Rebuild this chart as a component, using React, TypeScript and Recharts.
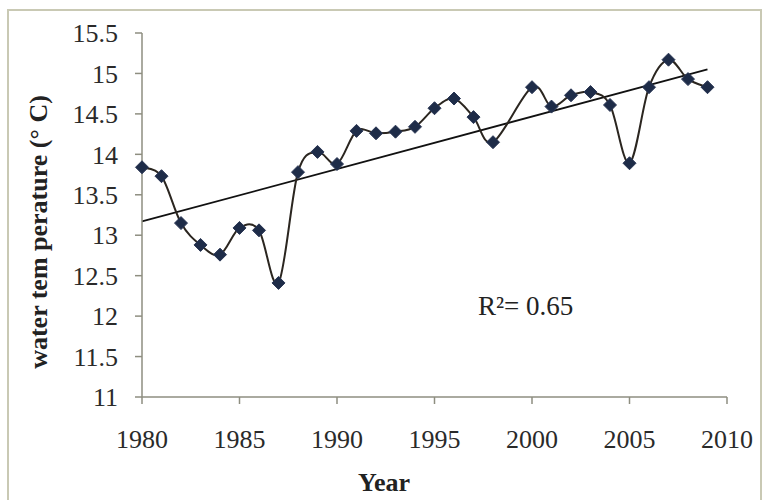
import React from 'react';
import { LineChart, Line, XAxis, YAxis, ReferenceLine } from 'recharts';

const years = [1980, 1981, 1982, 1983, 1984, 1985, 1986, 1987, 1988, 1989, 1990, 1991, 1992, 1993, 1994, 1995, 1996, 1997, 1998, 1999, 2000, 2001, 2002, 2003, 2004, 2005, 2006, 2007, 2008, 2009];
const temps: (number | null)[] = [13.84, 13.73, 13.15, 12.88, 12.76, 13.09, 13.06, 12.41, 13.78, 14.03, 13.88, 14.29, 14.26, 14.28, 14.34, 14.57, 14.69, 14.46, 14.15, null, 14.83, 14.59, 14.73, 14.77, 14.61, 13.89, 14.83, 15.17, 14.93, 14.83];
const trendYears = [1980, 2009];
const trendValues = [13.17, 15.05];
const xTicks = [1980, 1985, 1990, 1995, 2000, 2005, 2010];
const yTicks = [11, 11.5, 12, 12.5, 13, 13.5, 14, 14.5, 15, 15.5];

const data = years.map((y, i) => ({ year: y, temp: temps[i] }));

const FONT = 'Liberation Serif';
const AXIS = '#8e8e80';

// Excel-like smoothed curve (Catmull-Rom as cubic Bezier)
const smoothCurve = (context: any) => {
  let xs: number[] = [];
  let ys: number[] = [];
  return {
    areaStart() {},
    areaEnd() {},
    lineStart() {
      xs = [];
      ys = [];
    },
    point(x: number, y: number) {
      xs.push(+x);
      ys.push(+y);
    },
    lineEnd() {
      const n = xs.length;
      if (!n) return;
      context.moveTo(xs[0], ys[0]);
      for (let i = 0; i < n - 1; i++) {
        const x0 = i > 0 ? xs[i - 1] : xs[i];
        const y0 = i > 0 ? ys[i - 1] : ys[i];
        const x3 = i + 2 < n ? xs[i + 2] : xs[i + 1];
        const y3 = i + 2 < n ? ys[i + 2] : ys[i + 1];
        const c1x = xs[i] + (xs[i + 1] - x0) / 6;
        const c1y = ys[i] + (ys[i + 1] - y0) / 6;
        const c2x = xs[i + 1] - (x3 - xs[i]) / 6;
        const c2y = ys[i + 1] - (y3 - ys[i]) / 6;
        context.bezierCurveTo(c1x, c1y, c2x, c2y, xs[i + 1], ys[i + 1]);
      }
    },
  };
};

const Diamond = (props: any) => {
  const { cx, cy, payload, index } = props;
  if (cx == null || cy == null || payload == null || payload.temp == null) return <g key={`d${index}`} />;
  const r = 6.5;
  return (
    <polygon
      key={`d${index}`}
      points={`${cx},${cy - r} ${cx + r},${cy} ${cx},${cy + r} ${cx - r},${cy}`}
      fill="#1e2c48"
      stroke="#2a3654"
      strokeWidth={1}
    />
  );
};

export default function App() {
  return (
    <div style={{ position: 'absolute', left: 0, top: 0, width: 764, height: 500, background: '#fff', overflow: 'hidden' }}>
      <svg width={764} height={500} style={{ position: 'absolute', left: 0, top: 0 }}>
        <rect x={8} y={10} width={753} height={520} fill="none" stroke="#c9c9b4" strokeWidth={2} />
        <text x={384} y={491} textAnchor="middle" fontFamily={FONT} fontWeight="bold" fontSize={26} fill="#222">Year</text>
        <text
          transform="translate(47,232) rotate(-90)"
          textAnchor="middle"
          fontFamily={FONT}
          fontWeight="bold"
          fontSize={26}
          fill="#222"
        >water tem perature (° C)</text>
        <text x={478} y={315} fontFamily={FONT} fontSize={27} fill="#222">R²= 0.65</text>
      </svg>
      <div style={{ position: 'absolute', left: 0, top: 0 }}>
        <LineChart
          width={764}
          height={500}
          data={data}
          margin={{ top: 33, right: 37, bottom: 43, left: 0 }}
        >
          <XAxis
            dataKey="year"
            type="number"
            domain={[1980, 2010]}
            ticks={xTicks}
            interval={0}
            height={60}
            axisLine={{ stroke: AXIS, strokeWidth: 1.5 }}
            tickLine={{ stroke: AXIS, strokeWidth: 1.5 }}
            tickSize={7}
            tickMargin={26}
            tick={{ fontFamily: FONT, fontSize: 26, fill: '#2a2a2a' }}
          />
          <YAxis
            type="number"
            domain={[11, 15.5]}
            ticks={yTicks}
            interval={0}
            width={142}
            axisLine={{ stroke: AXIS, strokeWidth: 1.5 }}
            tickLine={{ stroke: AXIS, strokeWidth: 1.5 }}
            tickSize={7}
            tickMargin={17}
            tick={{ fontFamily: FONT, fontSize: 26, fill: '#2a2a2a' }}
          />
          <ReferenceLine
            segment={[
              { x: trendYears[0], y: trendValues[0] },
              { x: trendYears[1], y: trendValues[1] },
            ]}
            stroke="#111"
            strokeWidth={1.8}
            ifOverflow="visible"
          />
          <Line
            dataKey="temp"
            type={smoothCurve as any}
            stroke="#2b2620"
            strokeWidth={2}
            connectNulls
            dot={Diamond}
            activeDot={false}
            isAnimationActive={false}
          />
        </LineChart>
      </div>
    </div>
  );
}
